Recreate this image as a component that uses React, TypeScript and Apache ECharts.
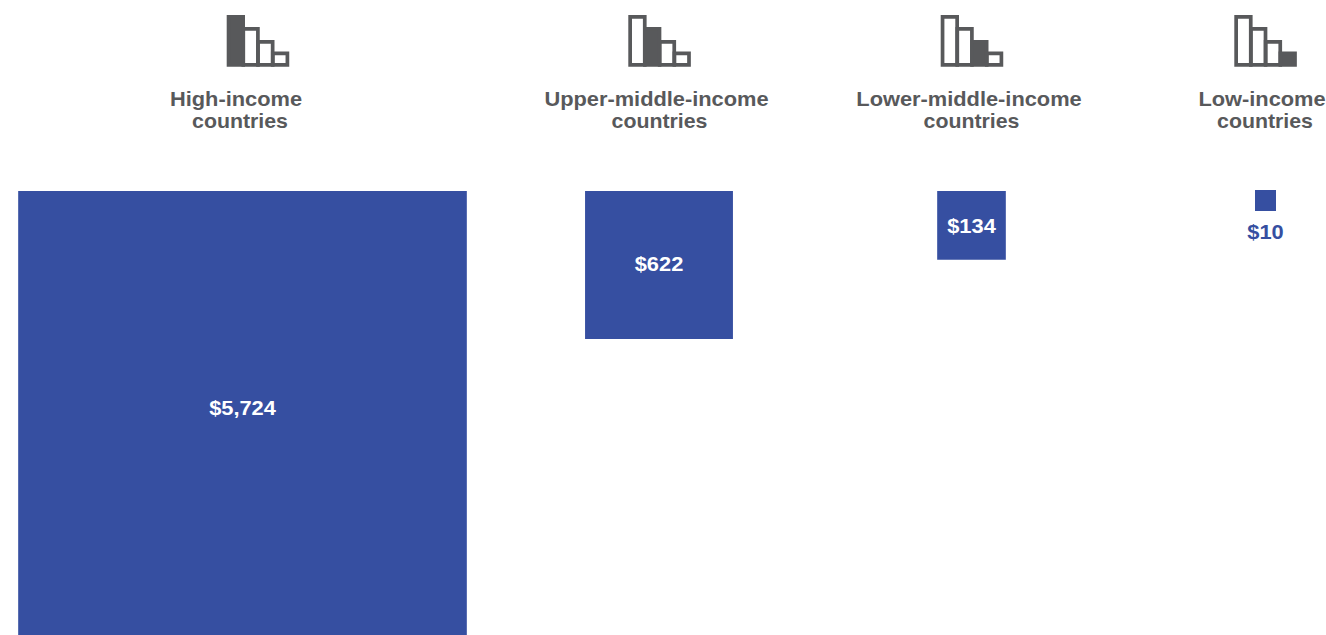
import React, { useEffect, useRef } from "react";
import * as echarts from "echarts";

const titleFirstLines = ["High-income", "Upper-middle-income", "Lower-middle-income", "Low-income"];
const titleSecondLine = "countries";
const values = [5724, 622, 134, 10];
const valueLabels = ["$5,724", "$622", "$134", "$10"];
const centres = [242.5, 659, 971.5, 1265.5];
const firstLineCentres = [236, 656.5, 969, 1262];
const secondLineCentres = [240, 659.5, 971.5, 1265];
const iconLefts = [226.7, 628.3, 940.7, 1234.3];
const labelCentreY = [408, 264, 226, 232];
const labelColours = ["#ffffff", "#ffffff", "#ffffff", "#364fa1"];

const BLUE = "#364fa1";
const GREY = "#58595b";
const TOP = 191;
const K = 5.93;
const MIN_SIDE = 21;
const FONT = '"Liberation Sans", Arial, sans-serif';

const iconBarTops = [15, 27, 40, 51.5];
const ICON_BOTTOM = 66.7;
const ICON_BAR_W = 18.3;
const ICON_STEP = 14.75;
const ICON_LW = 3.7;

function iconChildren(left: number, active: number) {
  const rect = (i: number, filled: boolean) => ({
    type: "rect",
    shape: {
      x: left + i * ICON_STEP + ICON_LW / 2,
      y: iconBarTops[i] + ICON_LW / 2,
      width: ICON_BAR_W - ICON_LW,
      height: ICON_BOTTOM - iconBarTops[i] - ICON_LW,
    },
    style: { fill: filled ? GREY : "none", stroke: GREY, lineWidth: ICON_LW },
  });
  const order = [0, 1, 2, 3].filter((i) => i !== active);
  return [...order.map((i) => rect(i, false)), rect(active, true)];
}

function stretchedText(text: string, x: number, y: number, fill: string, scaleX: number) {
  return {
    type: "text",
    x,
    y,
    scaleX,
    style: {
      x: 0,
      y: 0,
      text,
      fill,
      align: "center",
      verticalAlign: "middle",
      font: `bold 20.5px ${FONT}`,
    },
  };
}

export default function App() {
  const ref = useRef<HTMLDivElement>(null);
  useEffect(() => {
    const chart = echarts.init(ref.current!, undefined, { renderer: "svg" });
    chart.setOption({
      animation: false,
      grid: { left: 0, right: 0, top: 0, bottom: 0 },
      xAxis: { type: "value", min: 0, max: 1326, show: false },
      yAxis: { type: "value", min: 0, max: 635, inverse: true, show: false },
      series: [
        {
          type: "custom",
          coordinateSystem: "cartesian2d",
          clip: false,
          data: values.map((v, i) => [centres[i], TOP, v]),
          encode: { x: 0, y: 1 },
          renderItem: (params: any, api: any) => {
            const i = params.dataIndex;
            const [cx, top] = api.coord([api.value(0), api.value(1)]);
            const side = Math.max(MIN_SIDE, Math.sqrt(api.value(2)) * K);
            const isSmall = side <= MIN_SIDE;
            return {
              type: "group",
              children: [
                ...iconChildren(iconLefts[i], i),
                stretchedText(titleFirstLines[i], firstLineCentres[i], 99, GREY, 1.065),
                stretchedText(titleSecondLine, secondLineCentres[i], 121, GREY, 1.04),
                {
                  type: "rect",
                  shape: { x: cx - side / 2, y: isSmall ? top - 1 : top, width: side, height: side },
                  style: { fill: BLUE },
                },
                stretchedText(valueLabels[i], cx, labelCentreY[i], labelColours[i], 1.065),
              ],
            };
          },
        },
      ],
    });
    return () => chart.dispose();
  }, []);
  return <div ref={ref} style={{ position: "fixed", left: 0, top: 0, width: 1326, height: 635, background: "#fff" }} />;
}
